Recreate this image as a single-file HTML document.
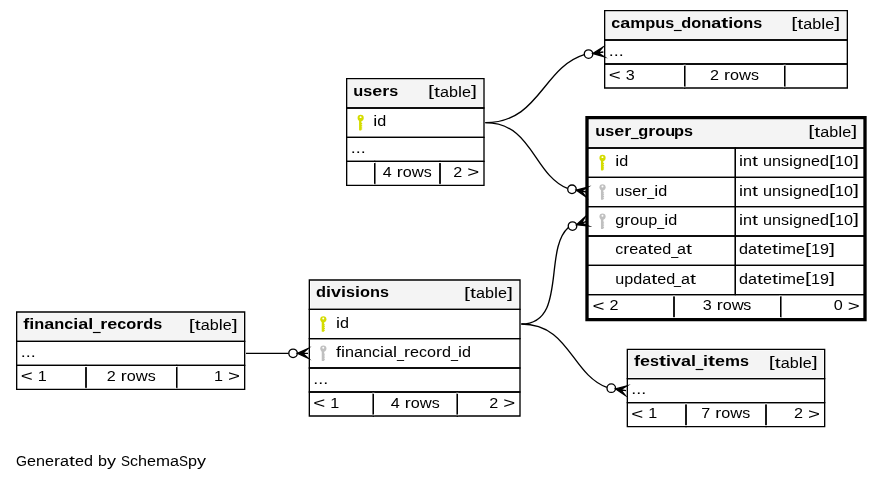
<!DOCTYPE html>
<html><head><meta charset="utf-8"><title>SchemaSpy relationships</title>
<style>
html,body{margin:0;padding:0;background:#ffffff;width:883px;height:481px;overflow:hidden;}
svg{display:block;will-change:transform;font-family:"Liberation Sans",sans-serif;}
</style></head><body>
<svg width="883" height="481" viewBox="0 0 662.25 360.75">
<g transform="scale(1 1) rotate(0) translate(4 357)">
<text font-family="Liberation Sans" font-size="11.4" y="-7.201"><tspan x="8.000" textLength="8.250" lengthAdjust="spacingAndGlyphs">G</tspan><tspan x="16.250" textLength="6.750" lengthAdjust="spacingAndGlyphs">e</tspan><tspan x="23.000" textLength="6.750" lengthAdjust="spacingAndGlyphs">n</tspan><tspan x="29.750" textLength="6.750" lengthAdjust="spacingAndGlyphs">e</tspan><tspan x="36.500" textLength="4.500" lengthAdjust="spacingAndGlyphs">r</tspan><tspan x="41.000" textLength="6.750" lengthAdjust="spacingAndGlyphs">a</tspan><tspan x="47.750" textLength="4.500" lengthAdjust="spacingAndGlyphs">t</tspan><tspan x="52.250" textLength="6.750" lengthAdjust="spacingAndGlyphs">e</tspan><tspan x="59.000" textLength="6.750" lengthAdjust="spacingAndGlyphs">d</tspan> <tspan x="69.500" textLength="6.750" lengthAdjust="spacingAndGlyphs">b</tspan><tspan x="76.250" textLength="6.750" lengthAdjust="spacingAndGlyphs">y</tspan> <tspan x="86.750" textLength="6.750" lengthAdjust="spacingAndGlyphs">S</tspan><tspan x="93.500" textLength="6.000" lengthAdjust="spacingAndGlyphs">c</tspan><tspan x="99.500" textLength="6.750" lengthAdjust="spacingAndGlyphs">h</tspan><tspan x="106.250" textLength="6.750" lengthAdjust="spacingAndGlyphs">e</tspan><tspan x="113.000" textLength="10.500" lengthAdjust="spacingAndGlyphs">m</tspan><tspan x="123.500" textLength="6.750" lengthAdjust="spacingAndGlyphs">a</tspan><tspan x="130.250" textLength="6.750" lengthAdjust="spacingAndGlyphs">S</tspan><tspan x="137.000" textLength="6.750" lengthAdjust="spacingAndGlyphs">p</tspan><tspan x="143.750" textLength="6.750" lengthAdjust="spacingAndGlyphs">y</tspan></text>
<g transform="translate(-0.5,0)">
<rect fill="#f4f4f4" x="450.90" y="-348.10" width="180.20" height="20.20"/>
<polygon fill="none" stroke="black" points="450,-327 450,-349 632,-349 632,-327 450,-327"/>
<text font-family="Liberation Sans" font-weight="bold" font-size="11.4" y="-336.199"><tspan x="455.000" textLength="6.750" lengthAdjust="spacingAndGlyphs">c</tspan><tspan x="461.750" textLength="7.500" lengthAdjust="spacingAndGlyphs">a</tspan><tspan x="469.250" textLength="11.250" lengthAdjust="spacingAndGlyphs">m</tspan><tspan x="480.500" textLength="7.500" lengthAdjust="spacingAndGlyphs">p</tspan><tspan x="488.000" textLength="7.500" lengthAdjust="spacingAndGlyphs">u</tspan><tspan x="495.500" textLength="6.750" lengthAdjust="spacingAndGlyphs">s</tspan><tspan x="502.250" y="-334.999" stroke="black" stroke-width="0.45" textLength="5.250" lengthAdjust="spacingAndGlyphs">_</tspan><tspan x="507.500" y="-336.199" textLength="7.500" lengthAdjust="spacingAndGlyphs">d</tspan><tspan x="515.000" textLength="7.500" lengthAdjust="spacingAndGlyphs">o</tspan><tspan x="522.500" textLength="7.500" lengthAdjust="spacingAndGlyphs">n</tspan><tspan x="530.000" textLength="7.500" lengthAdjust="spacingAndGlyphs">a</tspan><tspan x="537.500" textLength="5.250" lengthAdjust="spacingAndGlyphs">t</tspan><tspan x="542.750" textLength="3.750" lengthAdjust="spacingAndGlyphs">i</tspan><tspan x="546.500" textLength="7.500" lengthAdjust="spacingAndGlyphs">o</tspan><tspan x="554.000" textLength="7.500" lengthAdjust="spacingAndGlyphs">n</tspan><tspan x="561.500" textLength="6.750" lengthAdjust="spacingAndGlyphs">s</tspan></text>
<text font-family="Liberation Sans" font-size="11.4" y="-335.200"><tspan x="590.000" y="-335.650" textLength="4.500" lengthAdjust="spacingAndGlyphs">[</tspan><tspan x="594.500" y="-335.200" textLength="4.500" lengthAdjust="spacingAndGlyphs">t</tspan><tspan x="599.000" textLength="6.750" lengthAdjust="spacingAndGlyphs">a</tspan><tspan x="605.750" textLength="6.750" lengthAdjust="spacingAndGlyphs">b</tspan><tspan x="612.500" textLength="3.000" lengthAdjust="spacingAndGlyphs">l</tspan><tspan x="615.500" textLength="6.750" lengthAdjust="spacingAndGlyphs">e</tspan><tspan x="622.250" y="-335.650" textLength="4.500" lengthAdjust="spacingAndGlyphs">]</tspan></text>
<polygon fill="none" stroke="black" points="450,-309 450,-327 632,-327 632,-309 450,-309"/>
<text font-family="Liberation Sans" font-size="11.4" y="-315.199"><tspan x="452.999" textLength="3.750" lengthAdjust="spacingAndGlyphs">.</tspan><tspan x="456.749" textLength="3.750" lengthAdjust="spacingAndGlyphs">.</tspan><tspan x="460.499" textLength="3.750" lengthAdjust="spacingAndGlyphs">.</tspan></text>
<polygon fill="none" stroke="black" points="450,-291 450,-309 510,-309 510,-291 450,-291"/>
<text font-family="Liberation Sans" font-size="11.4" y="-297.199"><tspan x="452.999" y="-296.899" textLength="9.000" lengthAdjust="spacingAndGlyphs">&lt;</tspan> <tspan x="465.749" y="-297.199" textLength="6.750" lengthAdjust="spacingAndGlyphs">3</tspan></text>
<polygon fill="none" stroke="black" points="510,-291 510,-309 585,-309 585,-291 510,-291"/>
<text font-family="Liberation Sans" font-size="11.4" y="-297.199"><tspan x="529.001" textLength="6.750" lengthAdjust="spacingAndGlyphs">2</tspan> <tspan x="539.501" textLength="4.500" lengthAdjust="spacingAndGlyphs">r</tspan><tspan x="544.001" textLength="6.750" lengthAdjust="spacingAndGlyphs">o</tspan><tspan x="550.751" textLength="9.000" lengthAdjust="spacingAndGlyphs">w</tspan><tspan x="559.751" textLength="6.000" lengthAdjust="spacingAndGlyphs">s</tspan></text>
<polygon fill="none" stroke="black" points="585,-291 585,-309 632,-309 632,-291 585,-291"/>

<rect fill="#ffffff" x="509.20" y="-308.50" width="1.60" height="0.80"/><rect fill="#ffffff" x="509.20" y="-292.10" width="1.60" height="0.60"/><rect fill="#ffffff" x="584.20" y="-308.50" width="1.60" height="0.80"/><rect fill="#ffffff" x="584.20" y="-292.10" width="1.60" height="0.60"/></g>
<g>
<rect fill="#f4f4f4" x="256.90" y="-297.10" width="101.20" height="20.20"/>
<polygon fill="none" stroke="black" points="256,-276 256,-298 359,-298 359,-276 256,-276"/>
<text font-family="Liberation Sans" font-weight="bold" font-size="11.4" y="-285.199"><tspan x="260.999" textLength="7.500" lengthAdjust="spacingAndGlyphs">u</tspan><tspan x="268.499" textLength="6.750" lengthAdjust="spacingAndGlyphs">s</tspan><tspan x="275.249" textLength="7.500" lengthAdjust="spacingAndGlyphs">e</tspan><tspan x="282.749" textLength="5.250" lengthAdjust="spacingAndGlyphs">r</tspan><tspan x="287.999" textLength="6.750" lengthAdjust="spacingAndGlyphs">s</tspan></text>
<text font-family="Liberation Sans" font-size="11.4" y="-284.200"><tspan x="317.000" y="-284.650" textLength="4.500" lengthAdjust="spacingAndGlyphs">[</tspan><tspan x="321.500" y="-284.200" textLength="4.500" lengthAdjust="spacingAndGlyphs">t</tspan><tspan x="326.000" textLength="6.750" lengthAdjust="spacingAndGlyphs">a</tspan><tspan x="332.750" textLength="6.750" lengthAdjust="spacingAndGlyphs">b</tspan><tspan x="339.500" textLength="3.000" lengthAdjust="spacingAndGlyphs">l</tspan><tspan x="342.500" textLength="6.750" lengthAdjust="spacingAndGlyphs">e</tspan><tspan x="349.250" y="-284.650" textLength="4.500" lengthAdjust="spacingAndGlyphs">]</tspan></text>
<polygon fill="none" stroke="black" points="256,-254 256,-276 359,-276 359,-254 256,-254"/>
<text font-family="Liberation Sans" font-size="11.4" y="-262.201"><tspan x="275.999" textLength="3.000" lengthAdjust="spacingAndGlyphs">i</tspan><tspan x="278.999" textLength="6.750" lengthAdjust="spacingAndGlyphs">d</tspan></text>
<polygon fill="none" stroke="black" points="256,-236 256,-254 359,-254 359,-236 256,-236"/>
<text font-family="Liberation Sans" font-size="11.4" y="-242.200"><tspan x="259.001" textLength="3.750" lengthAdjust="spacingAndGlyphs">.</tspan><tspan x="262.751" textLength="3.750" lengthAdjust="spacingAndGlyphs">.</tspan><tspan x="266.501" textLength="3.750" lengthAdjust="spacingAndGlyphs">.</tspan></text>
<polygon fill="none" stroke="black" points="256,-218 256,-236 277,-236 277,-218 256,-218"/>

<polygon fill="none" stroke="black" points="277,-218 277,-236 326,-236 326,-218 277,-218"/>
<text font-family="Liberation Sans" font-size="11.4" y="-224.200"><tspan x="283.001" textLength="6.750" lengthAdjust="spacingAndGlyphs">4</tspan> <tspan x="293.501" textLength="4.500" lengthAdjust="spacingAndGlyphs">r</tspan><tspan x="298.001" textLength="6.750" lengthAdjust="spacingAndGlyphs">o</tspan><tspan x="304.751" textLength="9.000" lengthAdjust="spacingAndGlyphs">w</tspan><tspan x="313.751" textLength="6.000" lengthAdjust="spacingAndGlyphs">s</tspan></text>
<polygon fill="none" stroke="black" points="326,-218 326,-236 359,-236 359,-218 326,-218"/>
<text font-family="Liberation Sans" font-size="11.4" y="-224.200"><tspan x="335.999" textLength="6.750" lengthAdjust="spacingAndGlyphs">2</tspan> <tspan x="346.499" y="-223.900" textLength="9.000" lengthAdjust="spacingAndGlyphs">&gt;</tspan></text>
<g fill="#d4dc00"><circle cx="266.50" cy="-268.55" r="2.32"/><rect x="265.30" y="-267.00" width="1.8" height="7.8" rx="0.4"/><rect x="266.50" y="-264.75" width="1.15" height="0.8"/><rect x="266.50" y="-263.40" width="1.15" height="0.8"/><rect x="266.50" y="-262.05" width="1.15" height="0.8"/><rect x="266.50" y="-260.70" width="1.15" height="0.8"/></g><circle cx="266.45" cy="-269.15" r="0.74" fill="#ffffff"/><rect fill="#ffffff" x="276.20" y="-235.50" width="1.60" height="0.80"/><rect fill="#ffffff" x="276.20" y="-219.10" width="1.60" height="0.60"/><rect fill="#ffffff" x="325.20" y="-235.50" width="1.60" height="0.80"/><rect fill="#ffffff" x="325.20" y="-219.10" width="1.60" height="0.60"/></g>
<g><path fill="none" stroke="black" d="M434.18,-315.99C402.76,-306.31 400.64,-265 360,-265"/><g transform="translate(-0.5,0)">

<polygon fill="black" stroke="black" stroke-miterlimit="10" points="441.08,-316.89 448.5,-321.56 445.04,-317.44 449,-318 449,-318 449,-318 445.04,-317.44 449.5,-314.44 441.08,-316.89 441.08,-316.89"/>
<ellipse fill="none" stroke="black" cx="437.91" cy="-316.44" rx="3.2" ry="3.2"/>
</g></g>
<g>
<rect fill="#f4f4f4" x="228.90" y="-146.10" width="156.20" height="20.20"/>
<polygon fill="none" stroke="black" points="228,-125 228,-147 386,-147 386,-125 228,-125"/>
<text font-family="Liberation Sans" font-weight="bold" font-size="11.4" y="-134.200"><tspan x="233.000" textLength="7.500" lengthAdjust="spacingAndGlyphs">d</tspan><tspan x="240.500" textLength="3.750" lengthAdjust="spacingAndGlyphs">i</tspan><tspan x="244.250" textLength="7.500" lengthAdjust="spacingAndGlyphs">v</tspan><tspan x="251.750" textLength="3.750" lengthAdjust="spacingAndGlyphs">i</tspan><tspan x="255.500" textLength="6.750" lengthAdjust="spacingAndGlyphs">s</tspan><tspan x="262.250" textLength="3.750" lengthAdjust="spacingAndGlyphs">i</tspan><tspan x="266.000" textLength="7.500" lengthAdjust="spacingAndGlyphs">o</tspan><tspan x="273.500" textLength="7.500" lengthAdjust="spacingAndGlyphs">n</tspan><tspan x="281.000" textLength="6.750" lengthAdjust="spacingAndGlyphs">s</tspan></text>
<text font-family="Liberation Sans" font-size="11.4" y="-133.201"><tspan x="344.000" y="-133.651" textLength="4.500" lengthAdjust="spacingAndGlyphs">[</tspan><tspan x="348.500" y="-133.201" textLength="4.500" lengthAdjust="spacingAndGlyphs">t</tspan><tspan x="353.000" textLength="6.750" lengthAdjust="spacingAndGlyphs">a</tspan><tspan x="359.750" textLength="6.750" lengthAdjust="spacingAndGlyphs">b</tspan><tspan x="366.500" textLength="3.000" lengthAdjust="spacingAndGlyphs">l</tspan><tspan x="369.500" textLength="6.750" lengthAdjust="spacingAndGlyphs">e</tspan><tspan x="376.250" y="-133.651" textLength="4.500" lengthAdjust="spacingAndGlyphs">]</tspan></text>
<polygon fill="none" stroke="black" points="228,-103 228,-125 386,-125 386,-103 228,-103"/>
<text font-family="Liberation Sans" font-size="11.4" y="-111.199"><tspan x="248.000" textLength="3.000" lengthAdjust="spacingAndGlyphs">i</tspan><tspan x="251.000" textLength="6.750" lengthAdjust="spacingAndGlyphs">d</tspan></text>
<polygon fill="none" stroke="black" points="228,-81 228,-103 386,-103 386,-81 228,-81"/>
<text font-family="Liberation Sans" font-size="11.4" y="-89.200"><tspan x="248.000" textLength="6.750" lengthAdjust="spacingAndGlyphs">fi</tspan><tspan x="254.750" textLength="6.750" lengthAdjust="spacingAndGlyphs">n</tspan><tspan x="261.500" textLength="6.750" lengthAdjust="spacingAndGlyphs">a</tspan><tspan x="268.250" textLength="6.750" lengthAdjust="spacingAndGlyphs">n</tspan><tspan x="275.000" textLength="6.000" lengthAdjust="spacingAndGlyphs">c</tspan><tspan x="281.000" textLength="3.000" lengthAdjust="spacingAndGlyphs">i</tspan><tspan x="284.000" textLength="6.750" lengthAdjust="spacingAndGlyphs">a</tspan><tspan x="290.750" textLength="3.000" lengthAdjust="spacingAndGlyphs">l</tspan><tspan x="293.750" y="-88.870" textLength="5.250" lengthAdjust="spacingAndGlyphs">_</tspan><tspan x="299.000" y="-89.200" textLength="4.500" lengthAdjust="spacingAndGlyphs">r</tspan><tspan x="303.500" textLength="6.750" lengthAdjust="spacingAndGlyphs">e</tspan><tspan x="310.250" textLength="6.000" lengthAdjust="spacingAndGlyphs">c</tspan><tspan x="316.250" textLength="6.750" lengthAdjust="spacingAndGlyphs">o</tspan><tspan x="323.000" textLength="4.500" lengthAdjust="spacingAndGlyphs">r</tspan><tspan x="327.500" textLength="6.750" lengthAdjust="spacingAndGlyphs">d</tspan><tspan x="334.250" y="-88.870" textLength="5.250" lengthAdjust="spacingAndGlyphs">_</tspan><tspan x="339.500" y="-89.200" textLength="3.000" lengthAdjust="spacingAndGlyphs">i</tspan><tspan x="342.500" textLength="6.750" lengthAdjust="spacingAndGlyphs">d</tspan></text>
<polygon fill="none" stroke="black" points="228,-63 228,-81 386,-81 386,-63 228,-63"/>
<text font-family="Liberation Sans" font-size="11.4" y="-69.199"><tspan x="230.999" textLength="3.750" lengthAdjust="spacingAndGlyphs">.</tspan><tspan x="234.749" textLength="3.750" lengthAdjust="spacingAndGlyphs">.</tspan><tspan x="238.499" textLength="3.750" lengthAdjust="spacingAndGlyphs">.</tspan></text>
<polygon fill="none" stroke="black" points="228,-45 228,-63 276,-63 276,-45 228,-45"/>
<text font-family="Liberation Sans" font-size="11.4" y="-51.199"><tspan x="230.999" y="-50.899" textLength="9.000" lengthAdjust="spacingAndGlyphs">&lt;</tspan> <tspan x="243.749" y="-51.199" textLength="6.750" lengthAdjust="spacingAndGlyphs">1</tspan></text>
<polygon fill="none" stroke="black" points="276,-45 276,-63 339,-63 339,-45 276,-45"/>
<text font-family="Liberation Sans" font-size="11.4" y="-51.199"><tspan x="289.001" textLength="6.750" lengthAdjust="spacingAndGlyphs">4</tspan> <tspan x="299.501" textLength="4.500" lengthAdjust="spacingAndGlyphs">r</tspan><tspan x="304.001" textLength="6.750" lengthAdjust="spacingAndGlyphs">o</tspan><tspan x="310.751" textLength="9.000" lengthAdjust="spacingAndGlyphs">w</tspan><tspan x="319.751" textLength="6.000" lengthAdjust="spacingAndGlyphs">s</tspan></text>
<polygon fill="none" stroke="black" points="339,-45 339,-63 386,-63 386,-45 339,-45"/>
<text font-family="Liberation Sans" font-size="11.4" y="-51.199"><tspan x="362.999" textLength="6.750" lengthAdjust="spacingAndGlyphs">2</tspan> <tspan x="373.499" y="-50.899" textLength="9.000" lengthAdjust="spacingAndGlyphs">&gt;</tspan></text>
<g fill="#d4dc00"><circle cx="238.50" cy="-117.55" r="2.32"/><rect x="237.30" y="-116.00" width="1.8" height="7.8" rx="0.4"/><rect x="238.50" y="-113.75" width="1.15" height="0.8"/><rect x="238.50" y="-112.40" width="1.15" height="0.8"/><rect x="238.50" y="-111.05" width="1.15" height="0.8"/><rect x="238.50" y="-109.70" width="1.15" height="0.8"/></g><circle cx="238.45" cy="-118.15" r="0.74" fill="#ffffff"/><g fill="#c0c0c0"><circle cx="238.50" cy="-95.55" r="2.32"/><rect x="237.30" y="-94.00" width="1.8" height="7.8" rx="0.4"/><rect x="238.50" y="-91.75" width="1.15" height="0.8"/><rect x="238.50" y="-90.40" width="1.15" height="0.8"/><rect x="238.50" y="-89.05" width="1.15" height="0.8"/><rect x="238.50" y="-87.70" width="1.15" height="0.8"/></g><circle cx="238.45" cy="-96.15" r="0.74" fill="#ffffff"/><rect fill="#ffffff" x="275.20" y="-62.50" width="1.60" height="0.80"/><rect fill="#ffffff" x="275.20" y="-46.10" width="1.60" height="0.60"/><rect fill="#ffffff" x="338.20" y="-62.50" width="1.60" height="0.80"/><rect fill="#ffffff" x="338.20" y="-46.10" width="1.60" height="0.60"/></g>
<g>
<rect fill="#f4f4f4" x="9.40" y="-122.10" width="169.20" height="20.20"/>
<polygon fill="none" stroke="black" points="8.5,-101 8.5,-123 179.5,-123 179.5,-101 8.5,-101"/>
<text font-family="Liberation Sans" font-weight="bold" font-size="11.4" y="-110.200"><tspan x="13.499" textLength="8.250" lengthAdjust="spacingAndGlyphs">fi</tspan><tspan x="21.749" textLength="7.500" lengthAdjust="spacingAndGlyphs">n</tspan><tspan x="29.249" textLength="7.500" lengthAdjust="spacingAndGlyphs">a</tspan><tspan x="36.749" textLength="7.500" lengthAdjust="spacingAndGlyphs">n</tspan><tspan x="44.249" textLength="6.750" lengthAdjust="spacingAndGlyphs">c</tspan><tspan x="50.999" textLength="3.750" lengthAdjust="spacingAndGlyphs">i</tspan><tspan x="54.749" textLength="7.500" lengthAdjust="spacingAndGlyphs">a</tspan><tspan x="62.249" textLength="3.750" lengthAdjust="spacingAndGlyphs">l</tspan><tspan x="65.999" y="-109.000" stroke="black" stroke-width="0.45" textLength="5.250" lengthAdjust="spacingAndGlyphs">_</tspan><tspan x="71.249" y="-110.200" textLength="5.250" lengthAdjust="spacingAndGlyphs">r</tspan><tspan x="76.499" textLength="7.500" lengthAdjust="spacingAndGlyphs">e</tspan><tspan x="83.999" textLength="6.750" lengthAdjust="spacingAndGlyphs">c</tspan><tspan x="90.749" textLength="7.500" lengthAdjust="spacingAndGlyphs">o</tspan><tspan x="98.249" textLength="5.250" lengthAdjust="spacingAndGlyphs">r</tspan><tspan x="103.499" textLength="7.500" lengthAdjust="spacingAndGlyphs">d</tspan><tspan x="110.999" textLength="6.750" lengthAdjust="spacingAndGlyphs">s</tspan></text>
<text font-family="Liberation Sans" font-size="11.4" y="-109.201"><tspan x="137.501" y="-109.651" textLength="4.500" lengthAdjust="spacingAndGlyphs">[</tspan><tspan x="142.001" y="-109.201" textLength="4.500" lengthAdjust="spacingAndGlyphs">t</tspan><tspan x="146.501" textLength="6.750" lengthAdjust="spacingAndGlyphs">a</tspan><tspan x="153.251" textLength="6.750" lengthAdjust="spacingAndGlyphs">b</tspan><tspan x="160.001" textLength="3.000" lengthAdjust="spacingAndGlyphs">l</tspan><tspan x="163.001" textLength="6.750" lengthAdjust="spacingAndGlyphs">e</tspan><tspan x="169.751" y="-109.651" textLength="4.500" lengthAdjust="spacingAndGlyphs">]</tspan></text>
<polygon fill="none" stroke="black" points="8.5,-83 8.5,-101 179.5,-101 179.5,-83 8.5,-83"/>
<text font-family="Liberation Sans" font-size="11.4" y="-89.200"><tspan x="11.501" textLength="3.750" lengthAdjust="spacingAndGlyphs">.</tspan><tspan x="15.251" textLength="3.750" lengthAdjust="spacingAndGlyphs">.</tspan><tspan x="19.001" textLength="3.750" lengthAdjust="spacingAndGlyphs">.</tspan></text>
<polygon fill="none" stroke="black" points="8.5,-65 8.5,-83 60.5,-83 60.5,-65 8.5,-65"/>
<text font-family="Liberation Sans" font-size="11.4" y="-71.200"><tspan x="11.501" y="-70.900" textLength="9.000" lengthAdjust="spacingAndGlyphs">&lt;</tspan> <tspan x="24.251" y="-71.200" textLength="6.750" lengthAdjust="spacingAndGlyphs">1</tspan></text>
<polygon fill="none" stroke="black" points="60.5,-65 60.5,-83 128.5,-83 128.5,-65 60.5,-65"/>
<text font-family="Liberation Sans" font-size="11.4" y="-71.200"><tspan x="76.001" textLength="6.750" lengthAdjust="spacingAndGlyphs">2</tspan> <tspan x="86.501" textLength="4.500" lengthAdjust="spacingAndGlyphs">r</tspan><tspan x="91.001" textLength="6.750" lengthAdjust="spacingAndGlyphs">o</tspan><tspan x="97.751" textLength="9.000" lengthAdjust="spacingAndGlyphs">w</tspan><tspan x="106.751" textLength="6.000" lengthAdjust="spacingAndGlyphs">s</tspan></text>
<polygon fill="none" stroke="black" points="128.5,-65 128.5,-83 179.5,-83 179.5,-65 128.5,-65"/>
<text font-family="Liberation Sans" font-size="11.4" y="-71.200"><tspan x="156.500" textLength="6.750" lengthAdjust="spacingAndGlyphs">1</tspan> <tspan x="167.000" y="-70.900" textLength="9.000" lengthAdjust="spacingAndGlyphs">&gt;</tspan></text>
<rect fill="#ffffff" x="59.70" y="-82.50" width="1.60" height="0.80"/><rect fill="#ffffff" x="59.70" y="-66.10" width="1.60" height="0.60"/><rect fill="#ffffff" x="127.70" y="-82.50" width="1.60" height="0.80"/><rect fill="#ffffff" x="127.70" y="-66.10" width="1.60" height="0.60"/></g>
<g>
<path fill="none" stroke="black" d="M212.55,-92C202.2,-92 195.35,-92 180.5,-92"/>
<polygon fill="black" stroke="black" stroke-miterlimit="10" points="219,-92 227,-95.6 223,-92 227,-92 227,-92 227,-92 223,-92 227,-88.4 219,-92 219,-92"/>
<ellipse fill="none" stroke="black" cx="215.8" cy="-92" rx="3.2" ry="3.2"/>
</g>
<g transform="translate(-0.5,0)">
<rect fill="#f4f4f4" x="467.90" y="-94.10" width="146.20" height="20.20"/>
<polygon fill="none" stroke="black" points="467,-73 467,-95 615,-95 615,-73 467,-73"/>
<text font-family="Liberation Sans" font-weight="bold" font-size="11.4" y="-82.201"><tspan x="472.001" textLength="4.500" lengthAdjust="spacingAndGlyphs">f</tspan><tspan x="476.501" textLength="7.500" lengthAdjust="spacingAndGlyphs">e</tspan><tspan x="484.001" textLength="6.750" lengthAdjust="spacingAndGlyphs">s</tspan><tspan x="490.751" textLength="5.250" lengthAdjust="spacingAndGlyphs">t</tspan><tspan x="496.001" textLength="3.750" lengthAdjust="spacingAndGlyphs">i</tspan><tspan x="499.751" textLength="7.500" lengthAdjust="spacingAndGlyphs">v</tspan><tspan x="507.251" textLength="7.500" lengthAdjust="spacingAndGlyphs">a</tspan><tspan x="514.751" textLength="3.750" lengthAdjust="spacingAndGlyphs">l</tspan><tspan x="518.501" y="-81.001" stroke="black" stroke-width="0.45" textLength="5.250" lengthAdjust="spacingAndGlyphs">_</tspan><tspan x="523.751" y="-82.201" textLength="3.750" lengthAdjust="spacingAndGlyphs">i</tspan><tspan x="527.501" textLength="5.250" lengthAdjust="spacingAndGlyphs">t</tspan><tspan x="532.751" textLength="7.500" lengthAdjust="spacingAndGlyphs">e</tspan><tspan x="540.251" textLength="11.250" lengthAdjust="spacingAndGlyphs">m</tspan><tspan x="551.501" textLength="6.750" lengthAdjust="spacingAndGlyphs">s</tspan></text>
<text font-family="Liberation Sans" font-size="11.4" y="-81.199"><tspan x="572.999" y="-81.649" textLength="4.500" lengthAdjust="spacingAndGlyphs">[</tspan><tspan x="577.499" y="-81.199" textLength="4.500" lengthAdjust="spacingAndGlyphs">t</tspan><tspan x="581.999" textLength="6.750" lengthAdjust="spacingAndGlyphs">a</tspan><tspan x="588.749" textLength="6.750" lengthAdjust="spacingAndGlyphs">b</tspan><tspan x="595.499" textLength="3.000" lengthAdjust="spacingAndGlyphs">l</tspan><tspan x="598.499" textLength="6.750" lengthAdjust="spacingAndGlyphs">e</tspan><tspan x="605.249" y="-81.649" textLength="4.500" lengthAdjust="spacingAndGlyphs">]</tspan></text>
<polygon fill="none" stroke="black" points="467,-55 467,-73 615,-73 615,-55 467,-55"/>
<text font-family="Liberation Sans" font-size="11.4" y="-61.201"><tspan x="470.000" textLength="3.750" lengthAdjust="spacingAndGlyphs">.</tspan><tspan x="473.750" textLength="3.750" lengthAdjust="spacingAndGlyphs">.</tspan><tspan x="477.500" textLength="3.750" lengthAdjust="spacingAndGlyphs">.</tspan></text>
<polygon fill="none" stroke="black" points="467,-37 467,-55 511,-55 511,-37 467,-37"/>
<text font-family="Liberation Sans" font-size="11.4" y="-43.201"><tspan x="470.000" y="-42.901" textLength="9.000" lengthAdjust="spacingAndGlyphs">&lt;</tspan> <tspan x="482.750" y="-43.201" textLength="6.750" lengthAdjust="spacingAndGlyphs">1</tspan></text>
<polygon fill="none" stroke="black" points="511,-37 511,-55 571,-55 571,-37 511,-37"/>
<text font-family="Liberation Sans" font-size="11.4" y="-43.201"><tspan x="522.500" textLength="6.750" lengthAdjust="spacingAndGlyphs">7</tspan> <tspan x="533.000" textLength="4.500" lengthAdjust="spacingAndGlyphs">r</tspan><tspan x="537.500" textLength="6.750" lengthAdjust="spacingAndGlyphs">o</tspan><tspan x="544.250" textLength="9.000" lengthAdjust="spacingAndGlyphs">w</tspan><tspan x="553.250" textLength="6.000" lengthAdjust="spacingAndGlyphs">s</tspan></text>
<polygon fill="none" stroke="black" points="571,-37 571,-55 615,-55 615,-37 571,-37"/>
<text font-family="Liberation Sans" font-size="11.4" y="-43.201"><tspan x="592.001" textLength="6.750" lengthAdjust="spacingAndGlyphs">2</tspan> <tspan x="602.501" y="-42.901" textLength="9.000" lengthAdjust="spacingAndGlyphs">&gt;</tspan></text>
<rect fill="#ffffff" x="510.20" y="-54.50" width="1.60" height="0.80"/><rect fill="#ffffff" x="510.20" y="-38.10" width="1.60" height="0.60"/><rect fill="#ffffff" x="570.20" y="-54.50" width="1.60" height="0.80"/><rect fill="#ffffff" x="570.20" y="-38.10" width="1.60" height="0.60"/></g>
<g><path fill="none" stroke="black" d="M451.15,-66.41C424.48,-76.4 423.03,-114 387,-114"/><g transform="translate(-0.5,0)">

<polygon fill="black" stroke="black" stroke-miterlimit="10" points="458.11,-65.33 466.6,-67.55 462.06,-64.66 466,-64 466,-64 466,-64 462.06,-64.66 465.4,-60.45 458.11,-65.33 458.11,-65.33"/>
<ellipse fill="none" stroke="black" cx="454.95" cy="-65.86" rx="3.2" ry="3.2"/>
</g></g>
<g>
<rect fill="#f4f4f4" x="437.89" y="-267.10" width="205.21" height="20.20"/>
<polygon fill="none" stroke="black" points="437,-246 437,-268 644,-268 644,-246 437,-246"/>
<text font-family="Liberation Sans" font-weight="bold" font-size="11.4" y="-255.199"><tspan x="442.401" textLength="7.500" lengthAdjust="spacingAndGlyphs">u</tspan><tspan x="449.901" textLength="6.750" lengthAdjust="spacingAndGlyphs">s</tspan><tspan x="456.651" textLength="7.500" lengthAdjust="spacingAndGlyphs">e</tspan><tspan x="464.151" textLength="5.250" lengthAdjust="spacingAndGlyphs">r</tspan><tspan x="469.401" y="-253.999" stroke="black" stroke-width="0.45" textLength="5.250" lengthAdjust="spacingAndGlyphs">_</tspan><tspan x="474.651" y="-255.199" textLength="7.500" lengthAdjust="spacingAndGlyphs">g</tspan><tspan x="482.151" textLength="5.250" lengthAdjust="spacingAndGlyphs">r</tspan><tspan x="487.401" textLength="7.500" lengthAdjust="spacingAndGlyphs">o</tspan><tspan x="494.901" textLength="7.500" lengthAdjust="spacingAndGlyphs">u</tspan><tspan x="501.501" textLength="7.500" lengthAdjust="spacingAndGlyphs">p</tspan><tspan x="509.001" textLength="6.750" lengthAdjust="spacingAndGlyphs">s</tspan></text>
<text font-family="Liberation Sans" font-size="11.4" y="-254.200"><tspan x="602.249" y="-254.650" textLength="4.500" lengthAdjust="spacingAndGlyphs">[</tspan><tspan x="606.749" y="-254.200" textLength="4.500" lengthAdjust="spacingAndGlyphs">t</tspan><tspan x="611.249" textLength="6.750" lengthAdjust="spacingAndGlyphs">a</tspan><tspan x="617.999" textLength="6.750" lengthAdjust="spacingAndGlyphs">b</tspan><tspan x="624.749" textLength="3.000" lengthAdjust="spacingAndGlyphs">l</tspan><tspan x="627.749" textLength="6.750" lengthAdjust="spacingAndGlyphs">e</tspan><tspan x="634.499" y="-254.650" textLength="4.500" lengthAdjust="spacingAndGlyphs">]</tspan></text>
<polygon fill="none" stroke="black" points="437,-224 437,-246 547.5,-246 547.5,-224 437,-224"/>
<text font-family="Liberation Sans" font-size="11.4" y="-232.201"><tspan x="457.401" textLength="3.000" lengthAdjust="spacingAndGlyphs">i</tspan><tspan x="460.401" textLength="6.750" lengthAdjust="spacingAndGlyphs">d</tspan></text>
<polygon fill="none" stroke="black" points="547.5,-224 547.5,-246 644,-246 644,-224 547.5,-224"/>
<text font-family="Liberation Sans" font-size="11.4" y="-232.201"><tspan x="550.250" textLength="3.000" lengthAdjust="spacingAndGlyphs">i</tspan><tspan x="553.250" textLength="6.750" lengthAdjust="spacingAndGlyphs">n</tspan><tspan x="560.000" textLength="4.500" lengthAdjust="spacingAndGlyphs">t</tspan> <tspan x="568.250" textLength="6.750" lengthAdjust="spacingAndGlyphs">u</tspan><tspan x="575.000" textLength="6.750" lengthAdjust="spacingAndGlyphs">n</tspan><tspan x="581.750" textLength="6.000" lengthAdjust="spacingAndGlyphs">s</tspan><tspan x="587.750" textLength="3.000" lengthAdjust="spacingAndGlyphs">i</tspan><tspan x="590.750" textLength="6.750" lengthAdjust="spacingAndGlyphs">g</tspan><tspan x="597.500" textLength="6.750" lengthAdjust="spacingAndGlyphs">n</tspan><tspan x="604.250" textLength="6.750" lengthAdjust="spacingAndGlyphs">e</tspan><tspan x="611.000" textLength="6.750" lengthAdjust="spacingAndGlyphs">d</tspan><tspan x="617.750" y="-232.651" textLength="4.500" lengthAdjust="spacingAndGlyphs">[</tspan><tspan x="622.250" y="-232.201" textLength="6.750" lengthAdjust="spacingAndGlyphs">1</tspan><tspan x="629.000" textLength="6.750" lengthAdjust="spacingAndGlyphs">0</tspan><tspan x="635.750" y="-232.651" textLength="4.500" lengthAdjust="spacingAndGlyphs">]</tspan></text>
<polygon fill="none" stroke="black" points="437,-202 437,-224 547.5,-224 547.5,-202 437,-202"/>
<text font-family="Liberation Sans" font-size="11.4" y="-210.199"><tspan x="457.401" textLength="6.750" lengthAdjust="spacingAndGlyphs">u</tspan><tspan x="464.151" textLength="6.000" lengthAdjust="spacingAndGlyphs">s</tspan><tspan x="470.151" textLength="6.750" lengthAdjust="spacingAndGlyphs">e</tspan><tspan x="476.901" textLength="4.500" lengthAdjust="spacingAndGlyphs">r</tspan><tspan x="481.401" y="-209.869" textLength="5.250" lengthAdjust="spacingAndGlyphs">_</tspan><tspan x="486.651" y="-210.199" textLength="3.000" lengthAdjust="spacingAndGlyphs">i</tspan><tspan x="489.651" textLength="6.750" lengthAdjust="spacingAndGlyphs">d</tspan></text>
<polygon fill="none" stroke="black" points="547.5,-202 547.5,-224 644,-224 644,-202 547.5,-202"/>
<text font-family="Liberation Sans" font-size="11.4" y="-210.199"><tspan x="550.250" textLength="3.000" lengthAdjust="spacingAndGlyphs">i</tspan><tspan x="553.250" textLength="6.750" lengthAdjust="spacingAndGlyphs">n</tspan><tspan x="560.000" textLength="4.500" lengthAdjust="spacingAndGlyphs">t</tspan> <tspan x="568.250" textLength="6.750" lengthAdjust="spacingAndGlyphs">u</tspan><tspan x="575.000" textLength="6.750" lengthAdjust="spacingAndGlyphs">n</tspan><tspan x="581.750" textLength="6.000" lengthAdjust="spacingAndGlyphs">s</tspan><tspan x="587.750" textLength="3.000" lengthAdjust="spacingAndGlyphs">i</tspan><tspan x="590.750" textLength="6.750" lengthAdjust="spacingAndGlyphs">g</tspan><tspan x="597.500" textLength="6.750" lengthAdjust="spacingAndGlyphs">n</tspan><tspan x="604.250" textLength="6.750" lengthAdjust="spacingAndGlyphs">e</tspan><tspan x="611.000" textLength="6.750" lengthAdjust="spacingAndGlyphs">d</tspan><tspan x="617.750" y="-210.649" textLength="4.500" lengthAdjust="spacingAndGlyphs">[</tspan><tspan x="622.250" y="-210.199" textLength="6.750" lengthAdjust="spacingAndGlyphs">1</tspan><tspan x="629.000" textLength="6.750" lengthAdjust="spacingAndGlyphs">0</tspan><tspan x="635.750" y="-210.649" textLength="4.500" lengthAdjust="spacingAndGlyphs">]</tspan></text>
<polygon fill="none" stroke="black" points="437,-180 437,-202 547.5,-202 547.5,-180 437,-180"/>
<text font-family="Liberation Sans" font-size="11.4" y="-188.200"><tspan x="457.401" textLength="6.750" lengthAdjust="spacingAndGlyphs">g</tspan><tspan x="464.151" textLength="4.500" lengthAdjust="spacingAndGlyphs">r</tspan><tspan x="468.651" textLength="6.750" lengthAdjust="spacingAndGlyphs">o</tspan><tspan x="475.401" textLength="6.750" lengthAdjust="spacingAndGlyphs">u</tspan><tspan x="482.151" textLength="6.750" lengthAdjust="spacingAndGlyphs">p</tspan><tspan x="488.901" y="-187.870" textLength="5.250" lengthAdjust="spacingAndGlyphs">_</tspan><tspan x="494.151" y="-188.200" textLength="3.000" lengthAdjust="spacingAndGlyphs">i</tspan><tspan x="497.151" textLength="6.750" lengthAdjust="spacingAndGlyphs">d</tspan></text>
<polygon fill="none" stroke="black" points="547.5,-180 547.5,-202 644,-202 644,-180 547.5,-180"/>
<text font-family="Liberation Sans" font-size="11.4" y="-188.200"><tspan x="550.250" textLength="3.000" lengthAdjust="spacingAndGlyphs">i</tspan><tspan x="553.250" textLength="6.750" lengthAdjust="spacingAndGlyphs">n</tspan><tspan x="560.000" textLength="4.500" lengthAdjust="spacingAndGlyphs">t</tspan> <tspan x="568.250" textLength="6.750" lengthAdjust="spacingAndGlyphs">u</tspan><tspan x="575.000" textLength="6.750" lengthAdjust="spacingAndGlyphs">n</tspan><tspan x="581.750" textLength="6.000" lengthAdjust="spacingAndGlyphs">s</tspan><tspan x="587.750" textLength="3.000" lengthAdjust="spacingAndGlyphs">i</tspan><tspan x="590.750" textLength="6.750" lengthAdjust="spacingAndGlyphs">g</tspan><tspan x="597.500" textLength="6.750" lengthAdjust="spacingAndGlyphs">n</tspan><tspan x="604.250" textLength="6.750" lengthAdjust="spacingAndGlyphs">e</tspan><tspan x="611.000" textLength="6.750" lengthAdjust="spacingAndGlyphs">d</tspan><tspan x="617.750" y="-188.650" textLength="4.500" lengthAdjust="spacingAndGlyphs">[</tspan><tspan x="622.250" y="-188.200" textLength="6.750" lengthAdjust="spacingAndGlyphs">1</tspan><tspan x="629.000" textLength="6.750" lengthAdjust="spacingAndGlyphs">0</tspan><tspan x="635.750" y="-188.650" textLength="4.500" lengthAdjust="spacingAndGlyphs">]</tspan></text>
<polygon fill="none" stroke="black" points="437,-158 437,-180 547.5,-180 547.5,-158 437,-158"/>
<text font-family="Liberation Sans" font-size="11.4" y="-166.201"><tspan x="457.401" textLength="6.000" lengthAdjust="spacingAndGlyphs">c</tspan><tspan x="463.401" textLength="4.500" lengthAdjust="spacingAndGlyphs">r</tspan><tspan x="467.901" textLength="6.750" lengthAdjust="spacingAndGlyphs">e</tspan><tspan x="474.651" textLength="6.750" lengthAdjust="spacingAndGlyphs">a</tspan><tspan x="481.401" textLength="4.500" lengthAdjust="spacingAndGlyphs">t</tspan><tspan x="485.901" textLength="6.750" lengthAdjust="spacingAndGlyphs">e</tspan><tspan x="492.651" textLength="6.750" lengthAdjust="spacingAndGlyphs">d</tspan><tspan x="499.401" y="-165.871" textLength="5.250" lengthAdjust="spacingAndGlyphs">_</tspan><tspan x="503.751" y="-166.201" textLength="6.750" lengthAdjust="spacingAndGlyphs">a</tspan><tspan x="510.501" textLength="4.500" lengthAdjust="spacingAndGlyphs">t</tspan></text>
<polygon fill="none" stroke="black" points="547.5,-158 547.5,-180 644,-180 644,-158 547.5,-158"/>
<text font-family="Liberation Sans" font-size="11.4" y="-166.201"><tspan x="550.250" textLength="6.750" lengthAdjust="spacingAndGlyphs">d</tspan><tspan x="557.000" textLength="6.750" lengthAdjust="spacingAndGlyphs">a</tspan><tspan x="563.750" textLength="4.500" lengthAdjust="spacingAndGlyphs">t</tspan><tspan x="568.250" textLength="6.750" lengthAdjust="spacingAndGlyphs">e</tspan><tspan x="575.000" textLength="4.500" lengthAdjust="spacingAndGlyphs">t</tspan><tspan x="579.500" textLength="3.000" lengthAdjust="spacingAndGlyphs">i</tspan><tspan x="582.500" textLength="10.500" lengthAdjust="spacingAndGlyphs">m</tspan><tspan x="593.000" textLength="6.750" lengthAdjust="spacingAndGlyphs">e</tspan><tspan x="599.750" y="-166.651" textLength="4.500" lengthAdjust="spacingAndGlyphs">[</tspan><tspan x="604.250" y="-166.201" textLength="6.750" lengthAdjust="spacingAndGlyphs">1</tspan><tspan x="611.000" textLength="6.750" lengthAdjust="spacingAndGlyphs">9</tspan><tspan x="617.750" y="-166.651" textLength="4.500" lengthAdjust="spacingAndGlyphs">]</tspan></text>
<polygon fill="none" stroke="black" points="437,-136 437,-158 547.5,-158 547.5,-136 437,-136"/>
<text font-family="Liberation Sans" font-size="11.4" y="-144.199"><tspan x="457.401" textLength="6.750" lengthAdjust="spacingAndGlyphs">u</tspan><tspan x="464.151" textLength="6.750" lengthAdjust="spacingAndGlyphs">p</tspan><tspan x="470.901" textLength="6.750" lengthAdjust="spacingAndGlyphs">d</tspan><tspan x="477.651" textLength="6.750" lengthAdjust="spacingAndGlyphs">a</tspan><tspan x="484.401" textLength="4.500" lengthAdjust="spacingAndGlyphs">t</tspan><tspan x="488.901" textLength="6.750" lengthAdjust="spacingAndGlyphs">e</tspan><tspan x="495.651" textLength="6.750" lengthAdjust="spacingAndGlyphs">d</tspan><tspan x="501.501" y="-143.869" textLength="5.250" lengthAdjust="spacingAndGlyphs">_</tspan><tspan x="506.751" y="-144.199" textLength="6.750" lengthAdjust="spacingAndGlyphs">a</tspan><tspan x="513.501" textLength="4.500" lengthAdjust="spacingAndGlyphs">t</tspan></text>
<polygon fill="none" stroke="black" points="547.5,-136 547.5,-158 644,-158 644,-136 547.5,-136"/>
<text font-family="Liberation Sans" font-size="11.4" y="-144.199"><tspan x="550.250" textLength="6.750" lengthAdjust="spacingAndGlyphs">d</tspan><tspan x="557.000" textLength="6.750" lengthAdjust="spacingAndGlyphs">a</tspan><tspan x="563.750" textLength="4.500" lengthAdjust="spacingAndGlyphs">t</tspan><tspan x="568.250" textLength="6.750" lengthAdjust="spacingAndGlyphs">e</tspan><tspan x="575.000" textLength="4.500" lengthAdjust="spacingAndGlyphs">t</tspan><tspan x="579.500" textLength="3.000" lengthAdjust="spacingAndGlyphs">i</tspan><tspan x="582.500" textLength="10.500" lengthAdjust="spacingAndGlyphs">m</tspan><tspan x="593.000" textLength="6.750" lengthAdjust="spacingAndGlyphs">e</tspan><tspan x="599.750" y="-144.649" textLength="4.500" lengthAdjust="spacingAndGlyphs">[</tspan><tspan x="604.250" y="-144.199" textLength="6.750" lengthAdjust="spacingAndGlyphs">1</tspan><tspan x="611.000" textLength="6.750" lengthAdjust="spacingAndGlyphs">9</tspan><tspan x="617.750" y="-144.649" textLength="4.500" lengthAdjust="spacingAndGlyphs">]</tspan></text>
<polygon fill="none" stroke="black" points="437,-118 437,-136 501.5,-136 501.5,-118 437,-118"/>
<text font-family="Liberation Sans" font-size="11.4" y="-124.201"><tspan x="440.400" y="-123.901" textLength="9.000" lengthAdjust="spacingAndGlyphs">&lt;</tspan> <tspan x="453.150" y="-124.201" textLength="6.750" lengthAdjust="spacingAndGlyphs">2</tspan></text>
<polygon fill="none" stroke="black" points="501.5,-118 501.5,-136 581.5,-136 581.5,-118 501.5,-118"/>
<text font-family="Liberation Sans" font-size="11.4" y="-124.201"><tspan x="522.999" textLength="6.750" lengthAdjust="spacingAndGlyphs">3</tspan> <tspan x="533.499" textLength="4.500" lengthAdjust="spacingAndGlyphs">r</tspan><tspan x="537.999" textLength="6.750" lengthAdjust="spacingAndGlyphs">o</tspan><tspan x="544.749" textLength="9.000" lengthAdjust="spacingAndGlyphs">w</tspan><tspan x="553.499" textLength="6.000" lengthAdjust="spacingAndGlyphs">s</tspan></text>
<polygon fill="none" stroke="black" points="581.5,-118 581.5,-136 644,-136 644,-118 581.5,-118"/>
<text font-family="Liberation Sans" font-size="11.4" y="-124.201"><tspan x="621.251" textLength="6.750" lengthAdjust="spacingAndGlyphs">0</tspan> <tspan x="631.751" y="-123.901" textLength="9.000" lengthAdjust="spacingAndGlyphs">&gt;</tspan></text>
<polygon fill="none" stroke="black" stroke-width="2" points="436,-117 436,-269 645,-269 645,-117 436,-117"/>
<g fill="#d4dc00"><circle cx="447.90" cy="-238.55" r="2.32"/><rect x="446.70" y="-237.00" width="1.8" height="7.8" rx="0.4"/><rect x="447.90" y="-234.75" width="1.15" height="0.8"/><rect x="447.90" y="-233.40" width="1.15" height="0.8"/><rect x="447.90" y="-232.05" width="1.15" height="0.8"/><rect x="447.90" y="-230.70" width="1.15" height="0.8"/></g><circle cx="447.85" cy="-239.15" r="0.74" fill="#ffffff"/><g fill="#c0c0c0"><circle cx="447.90" cy="-216.55" r="2.32"/><rect x="446.70" y="-215.00" width="1.8" height="7.8" rx="0.4"/><rect x="447.90" y="-212.75" width="1.15" height="0.8"/><rect x="447.90" y="-211.40" width="1.15" height="0.8"/><rect x="447.90" y="-210.05" width="1.15" height="0.8"/><rect x="447.90" y="-208.70" width="1.15" height="0.8"/></g><circle cx="447.85" cy="-217.15" r="0.74" fill="#ffffff"/><g fill="#c0c0c0"><circle cx="447.90" cy="-194.55" r="2.32"/><rect x="446.70" y="-193.00" width="1.8" height="7.8" rx="0.4"/><rect x="447.90" y="-190.75" width="1.15" height="0.8"/><rect x="447.90" y="-189.40" width="1.15" height="0.8"/><rect x="447.90" y="-188.05" width="1.15" height="0.8"/><rect x="447.90" y="-186.70" width="1.15" height="0.8"/></g><circle cx="447.85" cy="-195.15" r="0.74" fill="#ffffff"/><rect fill="#ffffff" x="500.70" y="-135.50" width="1.60" height="0.80"/><rect fill="#ffffff" x="500.70" y="-119.10" width="1.60" height="0.60"/><rect fill="#ffffff" x="580.70" y="-135.50" width="1.60" height="0.80"/><rect fill="#ffffff" x="580.70" y="-119.10" width="1.60" height="0.60"/></g>
<g>
<path fill="none" stroke="black" d="M421.6,-215.65C395.8,-226.25 395.33,-265 360,-265"/>
<polygon fill="black" stroke="black" stroke-miterlimit="10" points="428.13,-214.45 436.65,-216.54 432.07,-213.72 436,-213 436,-213 436,-213 432.07,-213.72 435.35,-209.46 428.13,-214.45 428.13,-214.45"/>
<ellipse fill="none" stroke="black" cx="424.98" cy="-215.03" rx="3.2" ry="3.2"/>
</g>
<g>
<path fill="none" stroke="black" d="M422.27,-186.41C403.37,-169.84 421.54,-114 387,-114"/>
<polygon fill="black" stroke="black" stroke-miterlimit="10" points="428.41,-188.47 434.86,-194.41 432.21,-189.73 436,-191 436,-191 436,-191 432.21,-189.73 437.14,-187.59 428.41,-188.47 428.41,-188.47"/>
<ellipse fill="none" stroke="black" cx="425.38" cy="-187.45" rx="3.2" ry="3.2"/>
</g>
</g>

</svg>
</body></html>
